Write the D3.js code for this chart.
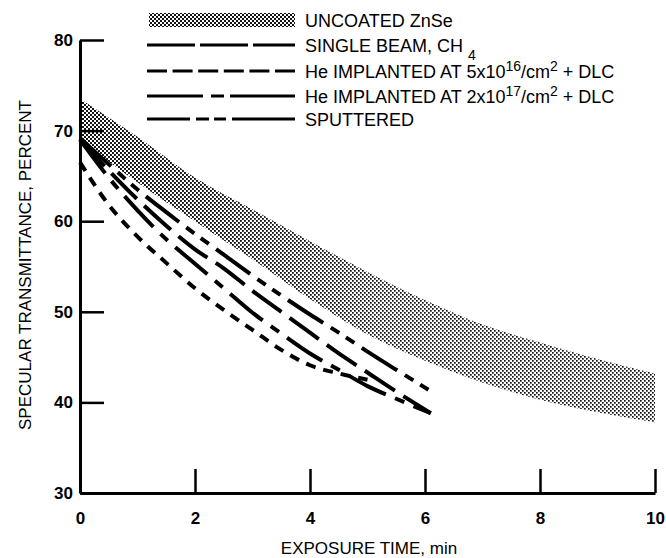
<!DOCTYPE html>
<html><head><meta charset="utf-8">
<script src="https://cdn.jsdelivr.net/npm/d3@7"></script>
<style>
body{margin:0;background:#fff}
svg{display:block}
text{font-family:"Liberation Sans",Arial,Helvetica,sans-serif;fill:#000}
</style></head>
<body><svg id="c" width="666" height="558"></svg>
<script>
// ---- data ----
const timeTicks = [0, 2, 4, 6, 8, 10];
const valueTicks = [30, 40, 50, 60, 70, 80];

const bandTime  = [0, 1, 2, 3, 4, 5, 6, 7, 8, 9, 10];
const bandUpper = [73.5, 69.3, 64.8, 61.3, 57.8, 54.4, 51.3, 48.6, 46.6, 44.8, 43.2];
const bandLower = [69.0, 64.3, 60.0, 55.8, 51.4, 47.5, 44.6, 42.2, 40.3, 38.9, 37.8];

const sputTime  = [0, 0.5, 1, 1.5, 2, 2.5, 3, 3.5, 4, 4.5, 5, 5.5, 6.06];
const sputVal   = [69.2, 66.3, 63.5, 61.0, 58.6, 56.3, 54.0, 51.8, 49.7, 47.7, 45.6, 43.6, 41.4];
const singleTime = [0, 0.5, 1, 1.5, 2, 2.5, 3, 3.5, 4, 4.5, 5, 5.5, 6.1];
const singleVal  = [69.0, 65.6, 62.4, 59.5, 56.9, 54.8, 52.3, 50.0, 47.7, 45.4, 43.3, 41.2, 38.8];
const he17Time  = [0, 0.5, 1, 1.5, 2, 2.5, 3, 3.5, 4, 4.5, 5, 5.5, 6.1];
const he17Val   = [69.0, 64.8, 61.2, 58.0, 55.3, 52.6, 49.9, 47.6, 45.4, 43.6, 41.8, 40.4, 38.8];
const he16Time  = [0, 0.5, 1, 1.5, 2, 2.5, 3, 3.5, 4, 4.5, 5];
const he16Val   = [66.5, 61.8, 58.3, 55.4, 52.6, 50.2, 48.0, 45.8, 44.1, 43.2, 42.5];

const xTitle = "EXPOSURE TIME, min";
const yTitle = "SPECULAR TRANSMITTANCE, PERCENT";

// ---- chart ----
const svg = d3.select("#c");
const x = d3.scaleLinear().domain([0, 10]).range([80, 655]);
const y = d3.scaleLinear().domain([30, 80]).range([493, 40]);

const defs = svg.append("defs");
function stipple(id, s) {
  const p = defs.append("pattern").attr("id", id).attr("patternUnits", "userSpaceOnUse")
    .attr("width", 4).attr("height", 4);
  p.append("rect").attr("x", 0).attr("y", 0).attr("width", s).attr("height", s).attr("fill", "#111");
  p.append("rect").attr("x", 2).attr("y", 2).attr("width", s).attr("height", s).attr("fill", "#111");
}
stipple("stipLight", 1.7);
stipple("stipDark", 2);
const grad = defs.append("linearGradient").attr("id", "fade").attr("gradientUnits", "userSpaceOnUse")
  .attr("x1", 80).attr("x2", 380).attr("y1", 0).attr("y2", 0);
grad.append("stop").attr("offset", 0).attr("stop-color", "#fff").attr("stop-opacity", 1);
grad.append("stop").attr("offset", 1).attr("stop-color", "#fff").attr("stop-opacity", 0);
const mask = defs.append("mask").attr("id", "fadeMask");
mask.append("rect").attr("x", 0).attr("y", 0).attr("width", 666).attr("height", 558).attr("fill", "url(#fade)");

const bandData = bandTime.map((t, i) => ({t, hi: bandUpper[i], lo: bandLower[i]}));
const area = d3.area().x(d => x(d.t)).y0(d => y(d.lo)).y1(d => y(d.hi)).curve(d3.curveMonotoneX);
svg.append("path").datum(bandData).attr("d", area).attr("fill", "url(#stipLight)");
svg.append("path").datum(bandData).attr("d", area).attr("fill", "url(#stipDark)").attr("mask", "url(#fadeMask)");

const series = [
  {t: sputTime, v: sputVal, dash: "42,9,10,8,10,9"},
  {t: singleTime, v: singleVal, dash: "36,10"},
  {t: he17Time, v: he17Val, dash: "42,10,10,10"},
  {t: he16Time, v: he16Val, dash: "10,8"}
];
const line = d3.line().x(d => x(d[0])).y(d => y(d[1])).curve(d3.curveMonotoneX);
series.forEach(s => {
  svg.append("path").datum(s.t.map((t, i) => [t, s.v[i]])).attr("d", line)
    .attr("fill", "none").attr("stroke", "#000").attr("stroke-width", 4)
    .attr("stroke-dasharray", s.dash);
});

// axes
const gx = svg.append("g").attr("transform", "translate(0,493)")
  .call(d3.axisBottom(x).tickValues(timeTicks).tickSize(-24).tickSizeOuter(0).tickPadding(19));
const gy = svg.append("g").attr("transform", "translate(80,0)")
  .call(d3.axisLeft(y).tickValues(valueTicks).tickSize(-24).tickSizeOuter(0).tickPadding(7));
[gx, gy].forEach(g => {
  g.select(".domain").attr("stroke", "#000").attr("stroke-width", 3);
  g.selectAll(".tick line").attr("stroke", "#000").attr("stroke-width", 2.5);
  g.selectAll(".tick text").attr("font-size", 17).attr("font-weight", "bold")
    .attr("font-family", "'Liberation Sans',Arial,sans-serif").attr("fill", "#000");
});

svg.append("text").attr("x", 369).attr("y", 554).attr("text-anchor", "middle")
  .attr("font-size", 17).text(xTitle);
svg.append("text").attr("transform", "translate(31,265) rotate(-90)").attr("text-anchor", "middle")
  .attr("font-size", 17).text(yTitle);

// legend
const legendRows = [
  {kind: "band", parts: [["UNCOATED ZnSe"]]},
  {kind: "line", dash: "48,5", parts: [["SINGLE BEAM, CH "], ["4", "sub"]]},
  {kind: "line", dash: "20,5.6", parts: [["He IMPLANTED AT 5x10"], ["16", "sup"], ["/cm"], ["2", "sup"], [" + DLC"]]},
  {kind: "line", dash: "56,8,13,6,200", parts: [["He IMPLANTED AT 2x10"], ["17", "sup"], ["/cm"], ["2", "sup"], [" + DLC"]]},
  {kind: "line", dash: "43,6,13,5,12,6,200", parts: [["SPUTTERED"]]}
];
const rowY = [21, 46, 72, 97, 120];
legendRows.forEach((r, i) => {
  const cy = rowY[i];
  if (r.kind === "band") {
    svg.append("rect").attr("x", 149).attr("y", cy - 8).attr("width", 146).attr("height", 14)
      .attr("fill", "url(#stipDark)");
  } else {
    svg.append("line").attr("x1", 147).attr("x2", 295).attr("y1", cy - 1).attr("y2", cy - 1)
      .attr("stroke", "#000").attr("stroke-width", 3).attr("stroke-dasharray", r.dash);
  }
  const t = svg.append("text").attr("x", 305).attr("y", cy + 6).attr("font-size", 18);
  let prev = null;
  r.parts.forEach(p => {
    const ts = t.append("tspan").text(p[0]);
    if (p[1] === "sup") ts.attr("font-size", 14).attr("dy", -7);
    else if (p[1] === "sub") ts.attr("font-size", 14).attr("dy", 8);
    else if (prev === "sup") ts.attr("dy", 7);
    else if (prev === "sub") ts.attr("dy", -8);
    prev = p[1] || null;
  });
});
</script>
</body></html>
